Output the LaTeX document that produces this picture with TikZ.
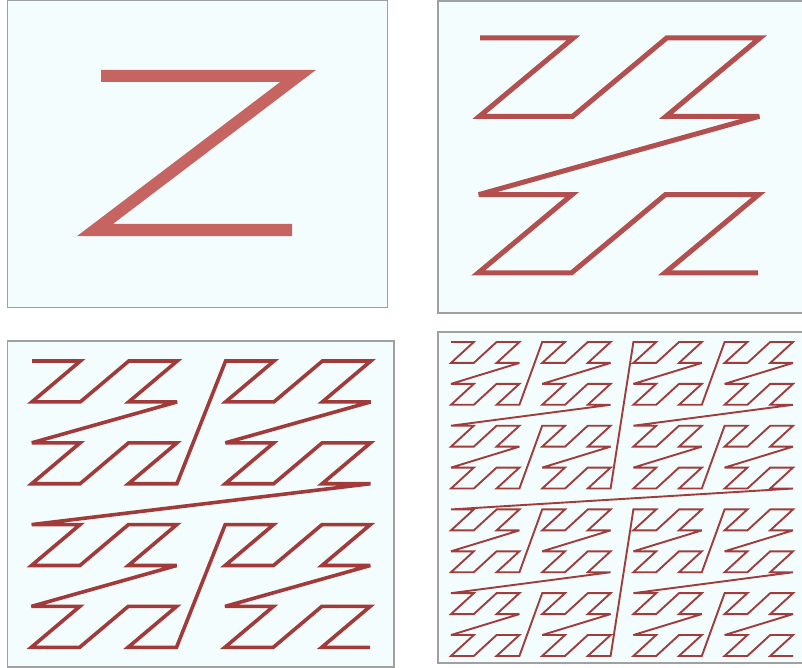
\documentclass[tikz,border=0pt]{standalone}
\usepackage{xcolor}
\definecolor{panelbg}{HTML}{F3FDFD}
\definecolor{panelframe}{HTML}{A0A0A0}
\definecolor{zone}{HTML}{C66461}
\definecolor{ztwo}{HTML}{B44F4F}
\definecolor{zthree}{HTML}{A33A3A}
\definecolor{zfour}{HTML}{A03C3C}
\tikzset{
  panel/.style={fill=panelbg, draw=panelframe, line width=1.4pt},
  zline/.style={line cap=butt, line join=miter, miter limit=4},
}
% #1 last index, #2 x0, #3 y0, #4 dx, #5 dy, #6 colour, #7 width, #8 shear
\newcommand\zcurvepath[8]{%
  \draw[zline, draw=#6, line width=#7] (#2,#3)
    \foreach \i in {1,...,#1}{
      -- ({#2+#4*(mod(\i,2)+2*mod(floor(\i/4),2)+4*mod(floor(\i/16),2)+8*mod(floor(\i/64),2))
             -#8*(mod(floor(\i/2),2)+2*mod(floor(\i/8),2)+4*mod(floor(\i/32),2)+8*mod(floor(\i/128),2))},
          {#3+#5*(mod(floor(\i/2),2)+2*mod(floor(\i/8),2)+4*mod(floor(\i/32),2)+8*mod(floor(\i/128),2))})
    };%
}
\begin{document}
\begin{tikzpicture}[x=1pt,y=-1pt]
\useasboundingbox (0,0) rectangle (802,668);
% frames
\path[panel] (7.5,0.5) rectangle (387.5,307.5);
\path[panel] (438,1) rectangle (806,313);
\path[panel] (7.5,341) rectangle (394,667);
\path[panel] (438,332) rectangle (806,663);
% curves
\zcurvepath{3}{101}{76}{197}{154}{zone}{12pt}{6}
\zcurvepath{15}{480}{38}{93.3}{78.3}{ztwo}{5pt}{0.6}
\zcurvepath{63}{32}{361}{48.4}{40.9}{zthree}{3.6pt}{0.1}
\zcurvepath{255}{451}{342}{22.8}{20.93}{zfour}{1.9pt}{0}
\end{tikzpicture}
\end{document}
